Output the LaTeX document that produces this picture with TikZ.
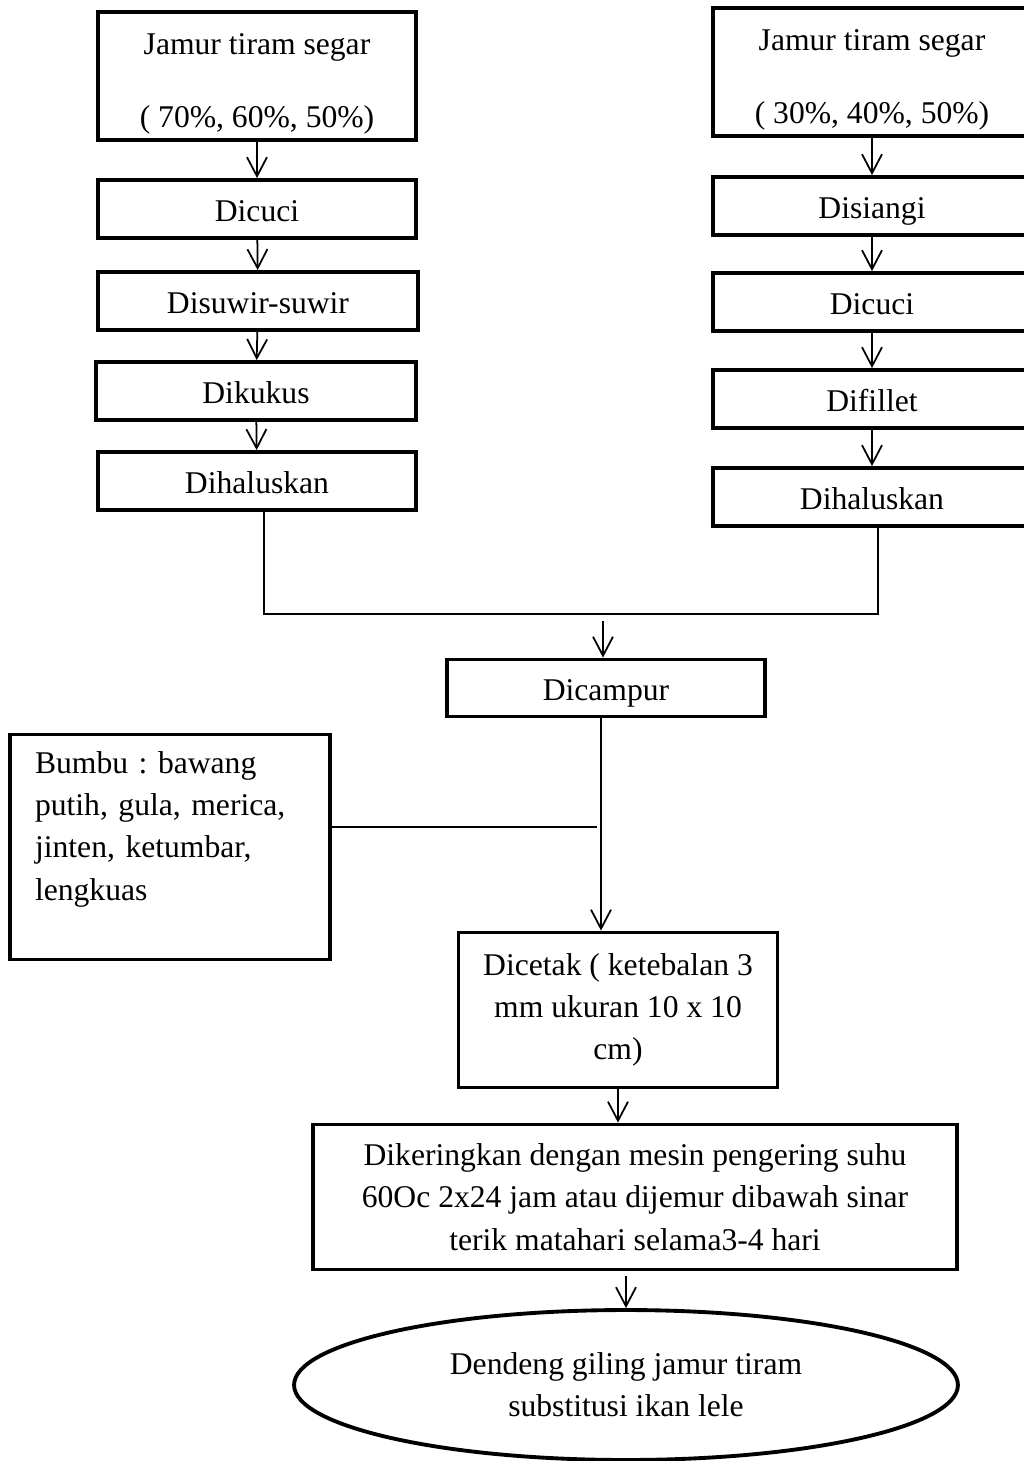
\documentclass[tikz,border=0pt]{standalone}
\usepackage{fontspec}
\setmainfont{Liberation Serif}
\usetikzlibrary{arrows.meta,positioning,shapes.geometric}
\tikzset{
  flow/box/.style={
    draw=black,
    line width=2.2pt,
    fill=white,
    align=center,
    text=black,
    inner sep=0pt,
    minimum width=6.36cm,
    minimum height=1.16cm,
    font=\fontsize{18}{24}\selectfont\frenchspacing
  },
  flow/single/.style={flow/box, text height=0.62cm, text depth=0.12cm},
  flow/double/.style={flow/box, minimum height=2.56cm, text height=2.2cm, text depth=0.13cm},
  flow/result/.style={
    ellipse,
    draw=black,
    line width=2.2pt,
    fill=white,
    align=center,
    text=black,
    inner sep=0pt,
    minimum width=13.28cm,
    minimum height=3cm,
    font=\fontsize{18}{24}\selectfont
  },
  flow/line/.style={line width=1pt, draw=black},
  flow/arrow/.style={-{Straight Barb[length=0.38cm,width=0.4cm]}, line width=1pt, draw=black}
}
\begin{document}
\begin{tikzpicture}[x=0.02cm,y=-0.02cm]
  \useasboundingbox (0,0) rectangle (1024,1461);
  \clip (0,0) rectangle (1024,1461);
  \node[flow/double] (jamurA) at (257,76) {Jamur tiram segar\\[0.62cm]( 70\%, 60\%, 50\%)};
  \node[flow/single] (cuciA) at (257,209) {Dicuci};
  \node[flow/single,minimum width=6.4cm] (suwir) at (258,301) {Disuwir-suwir};
  \node[flow/single,minimum width=6.4cm] (kukus) at (256,391) {Dikukus};
  \node[flow/single] (halusA) at (257,481) {Dihaluskan};
  \node[flow/double] (jamurB) at (872,72) {Jamur tiram segar\\[0.62cm]( 30\%, 40\%, 50\%)};
  \node[flow/single] (siangi) at (872,206) {Disiangi};
  \node[flow/single] (cuciB) at (872,302) {Dicuci};
  \node[flow/single] (fillet) at (872,399) {Difillet};
  \node[flow/single] (halusB) at (872,497) {Dihaluskan};
  \node[flow/single,minimum height=1.14cm] (campur) at (606,688) {Dicampur};
  \node[flow/box,align=left,text width=5.4cm,inner xsep=0.5cm,minimum width=6.4cm,minimum height=4.5cm] (bumbu) at (170,847) {Bumbu : bawang\\putih, gula, merica,\\jinten, ketumbar,\\lengkuas\\\mbox{}};
  \node[flow/box,minimum width=6.38cm,minimum height=3.1cm] (cetak) at (618,1010) {Dicetak ( ketebalan 3\\mm ukuran 10 x 10\\cm)};
  \node[flow/box,minimum width=12.88cm,minimum height=2.9cm] (kering) at (635,1197) {Dikeringkan dengan mesin pengering suhu\\60Oc 2x24 jam atau dijemur dibawah sinar\\terik matahari selama3-4 hari};
  \node[flow/result] (dendeng) at (626,1385) {Dendeng giling jamur tiram\\substitusi ikan lele};
  \coordinate (merge) at (606,614);
  \coordinate (mixin) at (603,621);
  \coordinate (spice) at (597,827);
  \draw[flow/arrow] (jamurA) -- (cuciA);
  \draw[flow/arrow] (cuciA) -- (suwir);
  \draw[flow/arrow] (suwir) -- (kukus);
  \draw[flow/arrow] (kukus) -- (halusA);
  \draw[flow/arrow] (jamurB) -- (siangi);
  \draw[flow/arrow] (siangi) -- (cuciB);
  \draw[flow/arrow] (cuciB) -- (fillet);
  \draw[flow/arrow] (fillet) -- (halusB);
  \draw[flow/line] ([xshift=0.14cm]halusA.south) |- (merge) -| ([xshift=0.12cm]halusB.south);
  \draw[flow/arrow] (mixin) -- (mixin |- campur.north);
  \draw[flow/arrow] ([xshift=-0.1cm]campur.south) -- ([xshift=-0.1cm]campur.south |- cetak.north);
  \draw[flow/line] (spice -| bumbu.east) -- (spice);
  \draw[flow/arrow] (cetak.south) -- (cetak.south |- kering.north);
  \draw[flow/arrow,shorten <=0.1cm] (kering.south -| dendeng.north) -- (dendeng.north);
\end{tikzpicture}
\end{document}
